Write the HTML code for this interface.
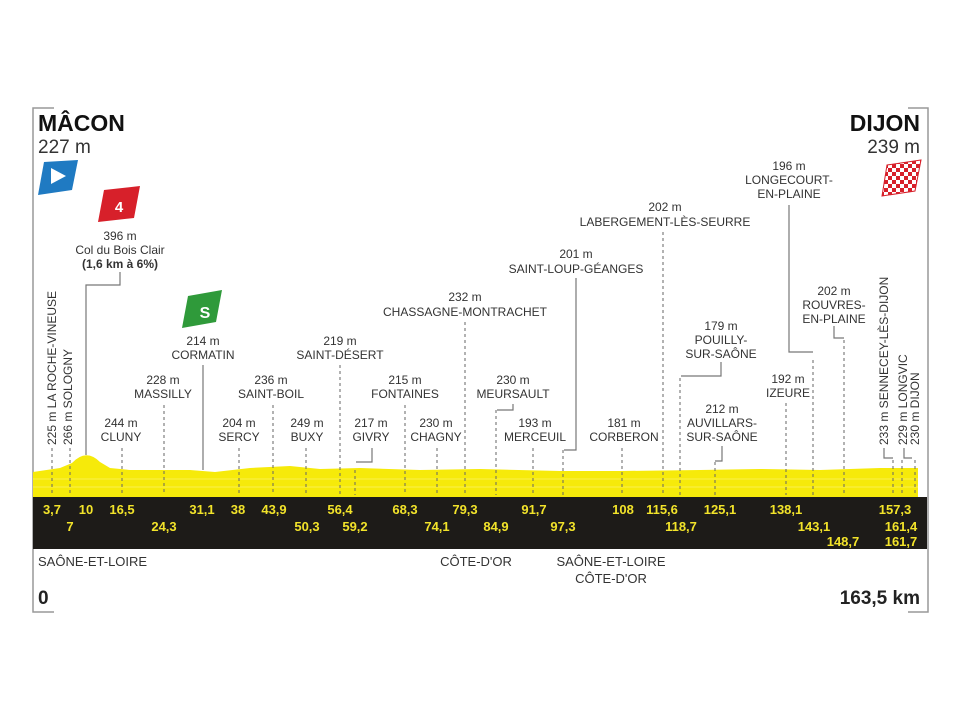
<!DOCTYPE html><html><head><meta charset="utf-8"><style>
body{margin:0;background:#fff}
svg{display:block}
text{font-family:"Liberation Sans","DejaVu Sans",sans-serif;fill:#333}
.l{font-size:12px;text-anchor:middle}
.k text{font-size:13px;font-weight:bold;fill:#f2e32a;text-anchor:middle}
.d{stroke:#666;stroke-width:1;stroke-dasharray:3,3;fill:none}
.s{stroke:#777;stroke-width:1.2;fill:none}
</style></head><body>
<svg width="960" height="720" viewBox="0 0 960 720">
<path d="M54 108H33V612H54M908 108H928V612H908" stroke="#999" stroke-width="1.5" fill="none"/>
<text x="38" y="131" style="font-size:23px;font-weight:bold;fill:#111">MÂCON</text>
<text x="38" y="153" style="font-size:19px">227 m</text>
<text x="920" y="131" text-anchor="end" style="font-size:23px;font-weight:bold;fill:#111">DIJON</text>
<text x="920" y="153" text-anchor="end" style="font-size:19px">239 m</text>
<path d="M44 162L78 160L72 190L38 195Z" fill="#1f7ac2"/><path d="M51 168L66 176L51 184Z" fill="#fff"/>
<path d="M104 190L140 186L134 218L98 222Z" fill="#d7202a"/><text x="119" y="212" text-anchor="middle" style="font-size:15px;font-weight:bold;fill:#fff">4</text>
<path d="M188 296L222 290L216 322L182 328Z" fill="#2f9a3a"/><text x="205" y="318" text-anchor="middle" style="font-size:16px;font-weight:bold;fill:#fff">S</text>
<defs><pattern id="ch" width="8" height="8" patternUnits="userSpaceOnUse"><rect width="8" height="8" fill="#fff"/><rect width="4" height="4" fill="#d7202a"/><rect x="4" y="4" width="4" height="4" fill="#d7202a"/></pattern></defs>
<path d="M887 165L921 160L915 191L882 196Z" fill="url(#ch)" stroke="#d7202a"/>
<path d="M33 472 L60 468 L72 463 Q86 448 100 462 L110 468 L130 470 L190 470 L215 472 L250 468 L290 466 L320 469 L360 468 L420 470 L480 469 L560 471 L620 471 L700 470 L760 469 L820 470 L880 468 L918 468 L918 497 L33 497Z" fill="#f6ea0a"/>
<path d="M33 479H918M33 487H918" stroke="#fff57a" stroke-width="1" opacity=".6"/>
<rect x="33" y="497" width="894" height="52" fill="#1d1b18"/>
<g class="d">
<path d="M52 448V495M70 448V495M122 448V495M164 405V495M239 448V495M273 405V495M306 448V495M340 365V495M355 470V495M405 405V495M437 448V495M465 322V495M496 410V495M533 448V495M563 450V495M622 448V495M663 232V495M680 378V495M715 462V495M786 403V495M813 360V495M844 340V495M893 460V495M902 460V495M915 460V495"/>
</g>
<g class="s">
<path d="M120 272V285H86V455M203 365V470M372 448V462H356M513 404V410H497M576 278V450H564M721 362V376H681M722 446V461H715M789 205V352H813M834 326V338H844M884 448V458H893M904 448V458H912"/>
</g>
<g class="l">
<text x="120" y="240">396 m</text><text x="120" y="254">Col du Bois Clair</text><text x="120" y="268" font-weight="bold">(1,6 km à 6%)</text>
<text x="121" y="427">244 m</text><text x="121" y="441">CLUNY</text>
<text x="163" y="384">228 m</text><text x="163" y="398">MASSILLY</text>
<text x="203" y="345">214 m</text><text x="203" y="359">CORMATIN</text>
<text x="239" y="427">204 m</text><text x="239" y="441">SERCY</text>
<text x="271" y="384">236 m</text><text x="271" y="398">SAINT-BOIL</text>
<text x="307" y="427">249 m</text><text x="307" y="441">BUXY</text>
<text x="340" y="345">219 m</text><text x="340" y="359">SAINT-DÉSERT</text>
<text x="371" y="427">217 m</text><text x="371" y="441">GIVRY</text>
<text x="405" y="384">215 m</text><text x="405" y="398">FONTAINES</text>
<text x="436" y="427">230 m</text><text x="436" y="441">CHAGNY</text>
<text x="465" y="301">232 m</text><text x="465" y="316">CHASSAGNE-MONTRACHET</text>
<text x="513" y="384">230 m</text><text x="513" y="398">MEURSAULT</text>
<text x="535" y="427">193 m</text><text x="535" y="441">MERCEUIL</text>
<text x="576" y="258">201 m</text><text x="576" y="273">SAINT-LOUP-GÉANGES</text>
<text x="624" y="427">181 m</text><text x="624" y="441">CORBERON</text>
<text x="665" y="211">202 m</text><text x="665" y="226">LABERGEMENT-LÈS-SEURRE</text>
<text x="721" y="330">179 m</text><text x="721" y="344">POUILLY-</text><text x="721" y="358">SUR-SAÔNE</text>
<text x="722" y="413">212 m</text><text x="722" y="427">AUVILLARS-</text><text x="722" y="441">SUR-SAÔNE</text>
<text x="788" y="383">192 m</text><text x="788" y="397">IZEURE</text>
<text x="789" y="170">196 m</text><text x="789" y="184">LONGECOURT-</text><text x="789" y="198">EN-PLAINE</text>
<text x="834" y="295">202 m</text><text x="834" y="309">ROUVRES-</text><text x="834" y="323">EN-PLAINE</text>
</g>
<g style="font-size:12px">
<text transform="translate(56,445) rotate(-90)">225 m LA ROCHE-VINEUSE</text>
<text transform="translate(72,445) rotate(-90)">266 m SOLOGNY</text>
<text transform="translate(888,445) rotate(-90)">233 m SENNECEY-LÈS-DIJON</text>
<text transform="translate(907,445) rotate(-90)">229 m LONGVIC</text>
<text transform="translate(919,445) rotate(-90)">230 m DIJON</text>
</g>
<g class="k">
<text x="52" y="514">3,7</text><text x="86" y="514">10</text><text x="122" y="514">16,5</text><text x="202" y="514">31,1</text><text x="238" y="514">38</text><text x="274" y="514">43,9</text><text x="340" y="514">56,4</text><text x="405" y="514">68,3</text><text x="465" y="514">79,3</text><text x="534" y="514">91,7</text><text x="623" y="514">108</text><text x="662" y="514">115,6</text><text x="720" y="514">125,1</text><text x="786" y="514">138,1</text><text x="895" y="514">157,3</text>
<text x="70" y="531">7</text><text x="164" y="531">24,3</text><text x="307" y="531">50,3</text><text x="355" y="531">59,2</text><text x="437" y="531">74,1</text><text x="496" y="531">84,9</text><text x="563" y="531">97,3</text><text x="681" y="531">118,7</text><text x="814" y="531">143,1</text><text x="901" y="531">161,4</text>
<text x="843" y="546">148,7</text><text x="901" y="546">161,7</text>
</g>
<g style="font-size:13px">
<text x="38" y="566">SAÔNE-ET-LOIRE</text>
<text x="476" y="566" text-anchor="middle">CÔTE-D'OR</text>
<text x="611" y="566" text-anchor="middle">SAÔNE-ET-LOIRE</text>
<text x="611" y="583" text-anchor="middle">CÔTE-D'OR</text>
</g>
<text x="38" y="604" style="font-size:19px;font-weight:bold;fill:#222">0</text>
<text x="920" y="604" text-anchor="end" style="font-size:19px;font-weight:bold;fill:#222">163,5 km</text>
</svg></body></html>
